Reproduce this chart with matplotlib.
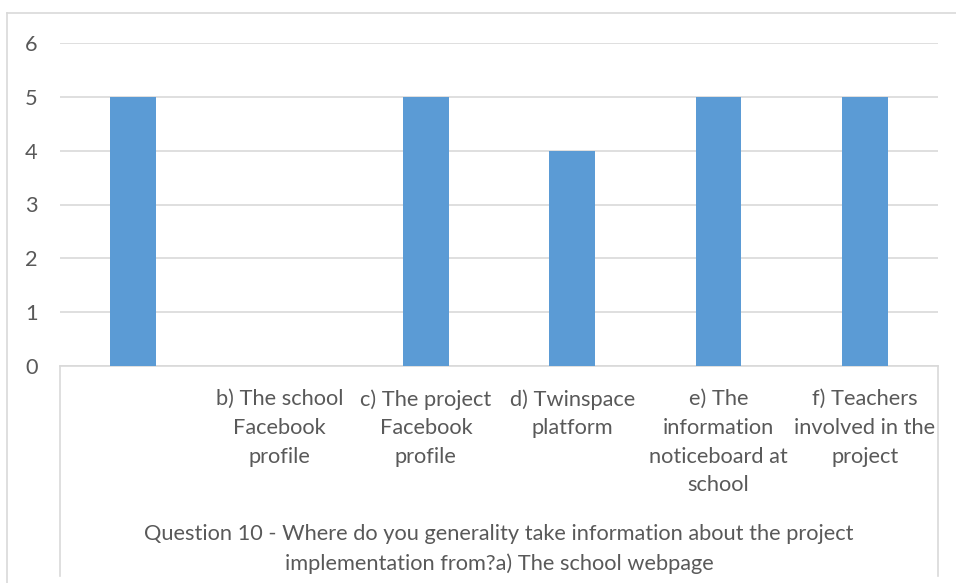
import matplotlib.pyplot as plt
from matplotlib.lines import Line2D

# data
labels = ["", "b) The school\nFacebook\nprofile", "c) The project\nFacebook\nprofile",
          "d) Twinspace\nplatform", "e) The\ninformation\nnoticeboard at\nschool",
          "f) Teachers\ninvolved in the\nproject"]
values = [5, 0, 5, 4, 5, 5]
xtitle = "Question 10 - Where do you generality take information about the project\nimplementation from?a) The school webpage"

plt.rcParams['font.family'] = ['Lato', 'DejaVu Sans']
txt = '#595959'
grid = '#d9d9d9'
fs = 15.7

W, H = 956, 583
fig = plt.figure(figsize=(W / 100, H / 100), dpi=100)
ax = fig.add_axes([60 / W, (H - 366) / H, (938 - 60) / W, (366 - 43) / H])

x = range(len(values))
ax.bar(x, values, width=0.31, color='#5b9bd5', zorder=3)
ax.set_xlim(-0.5, len(values) - 0.5)
ax.set_ylim(0, 6)
ax.set_yticks(range(7))
ax.yaxis.grid(True, color=grid, lw=1.2, zorder=0)
ax.set_xticks(list(x))
ax.set_xticklabels(labels, fontsize=fs, color=txt, linespacing=1.55)
ax.tick_params(axis='y', length=0, pad=16, labelsize=fs, labelcolor=txt)
ax.tick_params(axis='x', length=0, pad=16.5)
for s in ['top', 'right', 'left']:
    ax.spines[s].set_visible(False)
ax.spines['bottom'].set_color(grid)
ax.spines['bottom'].set_linewidth(1.2)
ax.set_xlabel(xtitle, fontsize=fs, color=txt, labelpad=21, linespacing=1.55)

# frame lines around the chart and category area
def fline(xs, ys):
    fig.add_artist(Line2D([v / W for v in xs], [1 - v / H for v in ys],
                          color=grid, lw=1.2))

fline([7, 956], [13, 13])
fline([7, 7], [13, 583])
fline([60, 60], [366, 576])
fline([938, 938], [366, 576])

fig.savefig('out.png', dpi=100)
